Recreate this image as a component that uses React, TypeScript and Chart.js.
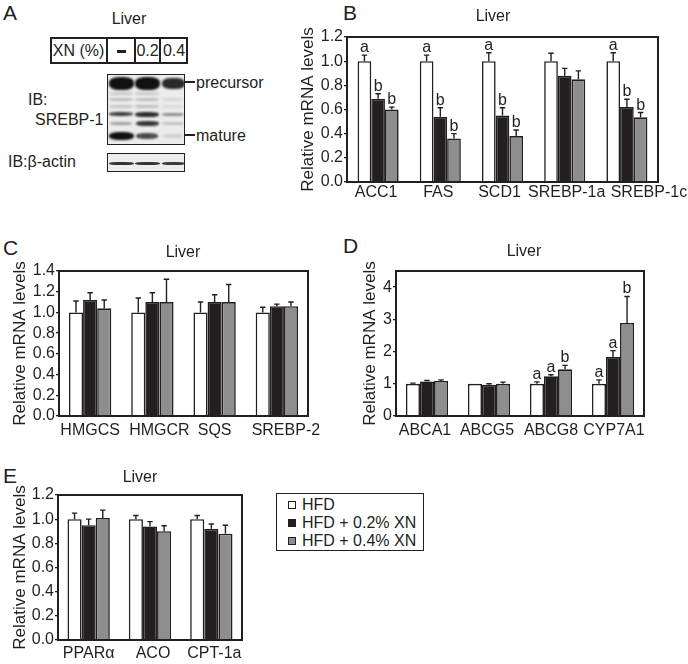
import React, { useEffect, useRef } from 'react';
import { Chart, registerables } from 'chart.js';
Chart.register(...registerables);

const FONT = "'Liberation Sans', Arial, Helvetica, sans-serif";
const INK = '#231f20';
const SERIES = ['HFD', 'HFD + 0.2% XN', 'HFD + 0.4% XN'];
const FILLS = ['#ffffff', '#231f20', '#8e8e8e'];
const FS = 16;
const TITLE_FS = 17;

// Panel B
const bCategories = ['ACC1', 'FAS', 'SCD1', 'SREBP-1a', 'SREBP-1c'];
const bHFD = [1.0, 1.0, 1.0, 1.0, 1.0];
const bXN02 = [0.69, 0.54, 0.55, 0.88, 0.62];
const bXN04 = [0.6, 0.36, 0.38, 0.85, 0.535];
const bHFDErr = [0.05, 0.05, 0.07, 0.065, 0.07];
const bXN02Err = [0.04, 0.075, 0.065, 0.06, 0.065];
const bXN04Err = [0.02, 0.04, 0.05, 0.07, 0.04];
const bHFDLetters = ['a', 'a', 'a', '', 'a'];
const bXN02Letters = ['b', 'b', 'b', '', 'b'];
const bXN04Letters = ['b', 'b', 'b', '', 'b'];

// Panel C
const cCategories = ['HMGCS', 'HMGCR', 'SQS', 'SREBP-2'];
const cHFD = [1.0, 1.0, 1.0, 1.0];
const cXN02 = [1.12, 1.1, 1.1, 1.06];
const cXN04 = [1.04, 1.1, 1.1, 1.06];
const cHFDErr = [0.11, 0.14, 0.1, 0.05];
const cXN02Err = [0.07, 0.09, 0.07, 0.02];
const cXN04Err = [0.08, 0.22, 0.17, 0.04];

// Panel D
const dCategories = ['ABCA1', 'ABCG5', 'ABCG8', 'CYP7A1'];
const dHFD = [1.0, 1.0, 1.0, 1.0];
const dXN02 = [1.07, 0.97, 1.23, 1.83];
const dXN04 = [1.09, 1.0, 1.45, 2.89];
const dHFDErr = [0.02, 0.0, 0.06, 0.12];
const dXN02Err = [0.03, 0.03, 0.05, 0.2];
const dXN04Err = [0.03, 0.05, 0.12, 0.82];
const dHFDLetters = ['', '', 'a', 'a'];
const dXN02Letters = ['', '', 'a', 'a'];
const dXN04Letters = ['', '', 'b', 'b'];

// Panel E
const eCategories = ['PPARα', 'ACO', 'CPT-1a'];
const eHFD = [1.0, 1.0, 1.0];
const eXN02 = [0.95, 0.94, 0.92];
const eXN04 = [1.01, 0.9, 0.88];
const eHFDErr = [0.05, 0.03, 0.03];
const eXN02Err = [0.05, 0.04, 0.04];
const eXN04Err = [0.065, 0.045, 0.07];

const blank = (n: number) => Array.from({ length: n }, () => '');

type PanelProps = {
  left: number; top: number; width: number; height: number;
  plotLeft: number; plotRight: number; plotTop: number; plotBottom: number;
  yTitleX: number; titleX: number; titleY: number;
  yMax: number; yStep: number; decimals: number; catPct: number;
  xLabelGap: number; xLabelShift: number[];
  categories: string[]; values: number[][]; errors: number[][]; letters: string[][];
};

function BarPanel(p: PanelProps) {
  const ref = useRef<HTMLCanvasElement>(null);
  useEffect(() => {
    if (!ref.current) return;
    const padLeft = p.yTitleX - p.left - (TITLE_FS * 1.2) / 2;
    const yW = p.plotLeft - p.left - padLeft;
    const padRight = p.left + p.width - p.plotRight;
    const padTop = p.plotTop - p.top;
    const xH = p.top + p.height - p.plotBottom;
    const decor = {
      id: 'decor',
      afterDatasetsDraw(chart: any) {
        const ctx = chart.ctx;
        const area = chart.chartArea;
        const ys = chart.scales.y;
        const xs = chart.scales.x;
        ctx.save();
        ctx.strokeStyle = INK;
        ctx.fillStyle = INK;
        ctx.lineWidth = 1.4;
        ctx.font = `${FS}px ${FONT}`;
        ctx.textAlign = 'center';
        ctx.textBaseline = 'alphabetic';
        p.values.forEach((vals, di) => {
          const meta = chart.getDatasetMeta(di);
          meta.data.forEach((bar: any, j: number) => {
            const v = vals[j];
            const e = p.errors[di][j];
            const x = bar.x;
            const y0 = ys.getPixelForValue(v);
            const y1 = ys.getPixelForValue(v + e);
            if (e > 0) {
              ctx.beginPath();
              ctx.moveTo(x, y0);
              ctx.lineTo(x, y1);
              ctx.moveTo(x - 2.7, y1);
              ctx.lineTo(x + 2.7, y1);
              ctx.stroke();
            }
            const L = p.letters[di][j];
            if (L) ctx.fillText(L, x, y1 - 3);
          });
        });
        ctx.lineWidth = 2;
        ctx.strokeRect(area.left, area.top, area.right - area.left, area.bottom - area.top);
        ctx.textBaseline = 'middle';
        ctx.fillText('Liver', p.titleX - p.left, p.titleY - p.top);
        // category labels, placed on the category scale
        ctx.textBaseline = 'top';
        p.categories.forEach((c, i) => {
          ctx.fillText(c, xs.getPixelForValue(i) + (p.xLabelShift[i] || 0), area.bottom + p.xLabelGap);
        });
        ctx.restore();
      },
    };
    const chart = new Chart(ref.current, {
      type: 'bar',
      data: {
        labels: p.categories,
        datasets: p.values.map((vals, i) => ({
          label: SERIES[i],
          data: vals,
          backgroundColor: FILLS[i],
          borderColor: INK,
          borderWidth: 1.6,
          borderSkipped: 'bottom',
          categoryPercentage: p.catPct,
          barPercentage: 1,
        })),
      },
      options: {
        responsive: false,
        animation: false,
        devicePixelRatio: 1,
        layout: { padding: { left: padLeft, right: padRight, top: padTop, bottom: 0 } },
        plugins: { legend: { display: false }, tooltip: { enabled: false }, title: { display: false } },
        scales: {
          x: {
            grid: { display: false, drawTicks: false },
            border: { display: false },
            ticks: { display: false },
            afterFit: (s: any) => { s.height = xH; },
          },
          y: {
            min: 0, max: p.yMax, position: 'left',
            border: { display: false },
            grid: { display: true, drawOnChartArea: false, drawTicks: true, tickLength: 3, color: INK, lineWidth: 1.3 },
            ticks: {
              stepSize: p.yStep, includeBounds: false, autoSkip: false, padding: 1, color: INK,
              font: { family: FONT, size: FS },
              callback: (v: any) => Number(v).toFixed(p.decimals),
            },
            title: { display: true, text: 'Relative mRNA levels', color: INK, font: { family: FONT, size: TITLE_FS }, padding: 0 },
            afterFit: (s: any) => { s.width = yW; },
          },
        },
      } as any,
      plugins: [decor],
    });
    return () => chart.destroy();
  }, []);
  return (
    <canvas
      ref={ref}
      width={p.width}
      height={p.height}
      style={{ position: 'absolute', left: p.left, top: p.top, width: p.width, height: p.height }}
    />
  );
}

const txt = (left: number, top: number, s: string, size = FS, extra: any = {}) => (
  <div style={{ position: 'absolute', left, top, fontSize: size, lineHeight: 1, fontFamily: FONT, color: INK, whiteSpace: 'nowrap', ...extra }}>{s}</div>
);

const band = (cx: number, cy: number, w: number, h: number, color: string, blur = 0.8) => (
  <div style={{
    position: 'absolute', left: cx - w / 2, top: cy - h / 2, width: w, height: h,
    background: color, borderRadius: '40%', filter: `blur(${blur}px)`,
  }} />
);

function BlotPanel() {
  const lanes = [120, 146, 172];
  return (
    <>
      {txt(129, 11, 'Liver', FS, { transform: 'translateX(-50%)' })}
      <div style={{ position: 'absolute', left: 50, top: 37, width: 138, height: 27, border: `2px solid ${INK}`, boxSizing: 'border-box' }} />
      {[107, 135, 160].map((x) => (
        <div key={x} style={{ position: 'absolute', left: x - 1, top: 37, width: 2, height: 27, background: INK }} />
      ))}
      {txt(78.5, 43, 'XN (%)', FS, { transform: 'translateX(-50%)' })}
      <div style={{ position: 'absolute', left: 117, top: 50, width: 9, height: 3, background: INK }} />
      {txt(147.5, 43, '0.2', FS, { transform: 'translateX(-50%)' })}
      {txt(174, 43, '0.4', FS, { transform: 'translateX(-50%)' })}

      <div style={{ position: 'absolute', left: 107, top: 74, width: 78, height: 71, border: `1.5px solid ${INK}`, boxSizing: 'border-box', background: '#ececec', overflow: 'hidden' }}>
        <div style={{ position: 'absolute', left: -107, top: -74, width: 300, height: 300 }}>
          {band(lanes[0], 82, 25, 13, '#111')}
          {band(lanes[1], 82, 25, 13, '#111')}
          {band(lanes[2], 82, 23, 11, '#2a2a2a')}
          {band(lanes[0], 92, 24, 3, '#c8c8c8')}
          {band(lanes[1], 92, 24, 3, '#c8c8c8')}
          {band(lanes[0], 98, 24, 3, '#bdbdbd')}
          {band(lanes[1], 98, 24, 3, '#bdbdbd')}
          {band(lanes[2], 98, 22, 3, '#d6d6d6')}
          {band(lanes[0], 105, 24, 3, '#c4c4c4')}
          {band(lanes[1], 105, 24, 3, '#bcbcbc')}
          {band(lanes[2], 105, 22, 3, '#d8d8d8')}
          {band(lanes[0], 113, 24, 4, '#3a3a3a')}
          {band(lanes[1], 113, 24, 5, '#2a2a2a')}
          {band(lanes[2], 113, 22, 3, '#8a8a8a')}
          {band(lanes[0], 122, 22, 3, '#a0a0a0')}
          {band(lanes[1], 122, 23, 5, '#333')}
          {band(lanes[2], 122, 22, 3, '#c0c0c0')}
          {band(lanes[0], 135, 25, 8, '#111')}
          {band(lanes[1], 135, 22, 6, '#4a4a4a')}
          {band(lanes[2], 135, 20, 4, '#d0d0d0')}
        </div>
      </div>
      <div style={{ position: 'absolute', left: 185, top: 81, width: 10, height: 1.5, background: INK }} />
      <div style={{ position: 'absolute', left: 185, top: 134, width: 10, height: 1.5, background: INK }} />
      {txt(196, 75, 'precursor')}
      {txt(196, 128, 'mature')}
      {txt(28, 92, 'IB:')}
      {txt(35, 112, 'SREBP-1')}

      <div style={{ position: 'absolute', left: 107, top: 153, width: 78, height: 19, border: `1.5px solid ${INK}`, boxSizing: 'border-box', background: '#ededed', overflow: 'hidden' }}>
        <div style={{ position: 'absolute', left: -107, top: -153, width: 300, height: 300 }}>
          {band(lanes[0], 162, 25, 3, '#333', 0.6)}
          {band(lanes[1], 162, 25, 3, '#333', 0.6)}
          {band(lanes[2], 162, 23, 3, '#3a3a3a', 0.6)}
        </div>
      </div>
      {txt(8, 154, 'IB:β-actin')}
    </>
  );
}

function Legend() {
  const ys = [505, 523, 541];
  return (
    <>
      <div style={{ position: 'absolute', left: 276, top: 493, width: 148, height: 58, border: `1.5px solid ${INK}`, boxSizing: 'border-box' }} />
      {SERIES.map((s, i) => (
        <React.Fragment key={s}>
          <div style={{ position: 'absolute', left: 288, top: ys[i] - 4, width: 8, height: 8, background: FILLS[i], border: `1.3px solid ${INK}`, boxSizing: 'border-box' }} />
          {txt(302, ys[i] - 8, s)}
        </React.Fragment>
      ))}
    </>
  );
}

export default function App() {
  return (
    <div style={{ position: 'absolute', left: 0, top: 0, width: 688, height: 664, background: '#fff', overflow: 'hidden', fontFamily: FONT }}>
      {txt(3, 2, 'A', 21)}
      {txt(343, 2, 'B', 21)}
      {txt(3, 237, 'C', 21)}
      {txt(343, 235, 'D', 21)}
      {txt(3, 465, 'E', 21)}
      <BlotPanel />
      <BarPanel
        left={290} top={0} width={398} height={205}
        plotLeft={347} plotRight={658} plotTop={37} plotBottom={182}
        yTitleX={308} titleX={493} titleY={17}
        yMax={1.2} yStep={0.2} decimals={1} catPct={0.66}
        xLabelGap={3} xLabelShift={[-2, -2, -3, 2, 22]}
        categories={bCategories}
        values={[bHFD, bXN02, bXN04]}
        errors={[bHFDErr, bXN02Err, bXN04Err]}
        letters={[bHFDLetters, bXN02Letters, bXN04Letters]}
      />
      <BarPanel
        left={0} top={235} width={330} height={210}
        plotLeft={59} plotRight={308} plotTop={271} plotBottom={416}
        yTitleX={20} titleX={183} titleY={253}
        yMax={1.4} yStep={0.2} decimals={1} catPct={0.68}
        xLabelGap={7} xLabelShift={[0, 7, 0, 9]}
        categories={cCategories}
        values={[cHFD, cXN02, cXN04]}
        errors={[cHFDErr, cXN02Err, cXN04Err]}
        letters={[blank(4), blank(4), blank(4)]}
      />
      <BarPanel
        left={340} top={235} width={348} height={210}
        plotLeft={396} plotRight={644} plotTop={271} plotBottom={416}
        yTitleX={370} titleX={524} titleY={252}
        yMax={4.5} yStep={1} decimals={0} catPct={0.68}
        xLabelGap={7} xLabelShift={[-2, -2, 0, 1]}
        categories={dCategories}
        values={[dHFD, dXN02, dXN04]}
        errors={[dHFDErr, dXN02Err, dXN04Err]}
        letters={[dHFDLetters, dXN02Letters, dXN04Letters]}
      />
      <BarPanel
        left={0} top={460} width={260} height={204}
        plotLeft={58} plotRight={242} plotTop={495} plotBottom={640}
        yTitleX={20} titleX={140} titleY={478}
        yMax={1.2} yStep={0.2} decimals={1} catPct={0.69}
        xLabelGap={6} xLabelShift={[0, 3, 3]}
        categories={eCategories}
        values={[eHFD, eXN02, eXN04]}
        errors={[eHFDErr, eXN02Err, eXN04Err]}
        letters={[blank(3), blank(3), blank(3)]}
      />
      <Legend />
    </div>
  );
}
